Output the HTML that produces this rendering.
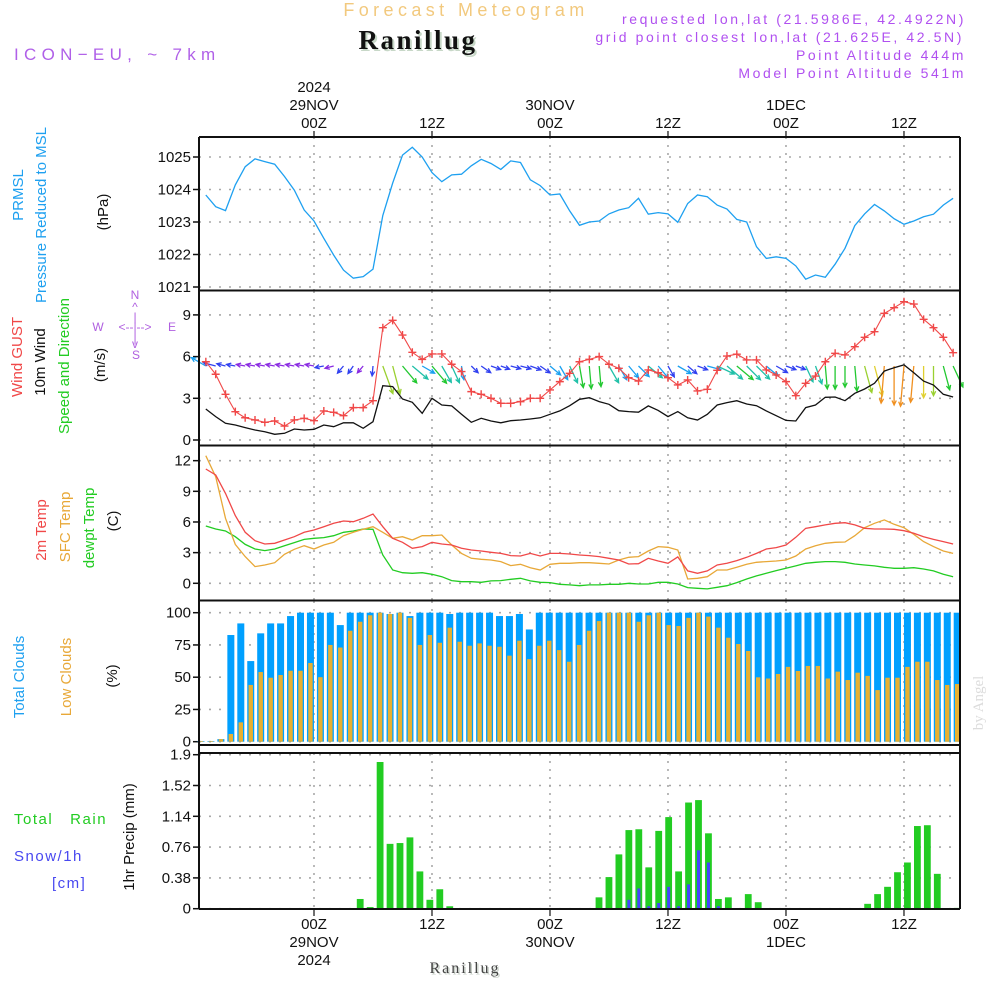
<!DOCTYPE html>
<html><head><meta charset="utf-8"><title>Forecast Meteogram - Ranillug</title>
<style>
html,body{margin:0;padding:0;background:#fff;}
svg{display:block;font-family:"Liberation Sans",sans-serif;}
.tk{font-size:15px;fill:#111;text-anchor:end;}
.ax{font-size:15px;fill:#111;text-anchor:middle;}
.lab{font-size:15px;}
</style></head>
<body>
<svg id="chart" width="1000" height="1000" viewBox="0 0 1000 1000" xmlns="http://www.w3.org/2000/svg">
<rect x="0" y="0" width="1000" height="1000" fill="#fff"/>
<text x="466" y="16" font-size="18" fill="#f2c97e" text-anchor="middle" letter-spacing="4.4">Forecast Meteogram</text>
<text x="418" y="49" font-size="27" font-weight="bold" font-family="Liberation Serif, serif" fill="#c8d8c8" text-anchor="middle" letter-spacing="2.5" transform="translate(2,2)">Ranillug</text>
<text x="418" y="49" font-size="27" font-weight="bold" font-family="Liberation Serif, serif" fill="#111" text-anchor="middle" letter-spacing="2.5">Ranillug</text>
<text x="14" y="60" font-size="17" fill="#b060e8" letter-spacing="5.3">ICON−EU, ~ 7km</text>
<g font-size="14" fill="#b050f0" text-anchor="end" letter-spacing="2.6">
<text x="966" y="24">requested lon,lat (21.5986E, 42.4922N)</text>
<text x="964" y="42">grid point closest lon,lat (21.625E, 42.5N)</text>
<text x="966" y="60">Point Altitude 444m</text>
<text x="966" y="78">Model Point Altitude 541m</text>
</g>
<g class="ax">
<text x="314" y="92" class="ax">2024</text>
<text x="314" y="110" class="ax">29NOV</text>
<text x="314" y="128" class="ax">00Z</text>
<text x="432" y="128" class="ax">12Z</text>
<text x="550" y="110" class="ax">30NOV</text>
<text x="550" y="128" class="ax">00Z</text>
<text x="668" y="128" class="ax">12Z</text>
<text x="786" y="110" class="ax">1DEC</text>
<text x="786" y="128" class="ax">00Z</text>
<text x="904" y="128" class="ax">12Z</text>
</g>
<g class="ax">
<text x="314" y="929" class="ax">00Z</text>
<text x="314" y="947" class="ax">29NOV</text>
<text x="314" y="965" class="ax">2024</text>
<text x="432" y="929" class="ax">12Z</text>
<text x="550" y="929" class="ax">00Z</text>
<text x="550" y="947" class="ax">30NOV</text>
<text x="668" y="929" class="ax">12Z</text>
<text x="786" y="929" class="ax">00Z</text>
<text x="786" y="947" class="ax">1DEC</text>
<text x="904" y="929" class="ax">12Z</text>
</g>
<text x="465" y="973" font-size="16" font-family="Liberation Serif, serif" fill="#c8d0c8" text-anchor="middle" letter-spacing="2" transform="translate(1.5,1.5)">Ranillug</text>
<text x="465" y="973" font-size="16" font-family="Liberation Serif, serif" fill="#444" text-anchor="middle" letter-spacing="2">Ranillug</text>
<text x="0" y="0" font-size="15" font-family="Liberation Serif, serif" fill="#dcdcdc" text-anchor="middle" transform="translate(983,703) rotate(-90)">by Angel</text>

<g class="lab">
<text transform="translate(23,195) rotate(-90)" text-anchor="middle" fill="#1ea0f0">PRMSL</text>
<text transform="translate(46,215) rotate(-90)" text-anchor="middle" fill="#1ea0f0">Pressure Reduced to MSL</text>
<text transform="translate(108,212) rotate(-90)" text-anchor="middle" fill="#111">(hPa)</text>
</g>
<g class="lab">
<text transform="translate(22,357) rotate(-90)" text-anchor="middle" fill="#f04848">Wind GUST</text>
<text transform="translate(45,362) rotate(-90)" text-anchor="middle" fill="#111">10m Wind</text>
<text transform="translate(69,366) rotate(-90)" text-anchor="middle" fill="#22cc22">Speed and Direction</text>
<text transform="translate(105,365) rotate(-90)" text-anchor="middle" fill="#111">(m/s)</text>
</g>
<g font-size="12" fill="#b060e0" text-anchor="middle">
<text x="135" y="299">N</text>
<text x="135" y="311">^</text>
<text x="135" y="321">|</text>
<text x="98" y="331">W</text>
<text x="135" y="331">&lt;--|--&gt;</text>
<text x="172" y="331">E</text>
<text x="135" y="342">|</text>
<text x="135" y="348">v</text>
<text x="136" y="359">S</text>
</g>
<g class="lab">
<text transform="translate(46,530) rotate(-90)" text-anchor="middle" fill="#f04848">2m Temp</text>
<text transform="translate(70,527) rotate(-90)" text-anchor="middle" fill="#e8a838">SFC Temp</text>
<text transform="translate(94,528) rotate(-90)" text-anchor="middle" fill="#22cc22">dewpt Temp</text>
<text transform="translate(118,521) rotate(-90)" text-anchor="middle" fill="#111">(C)</text>
</g>
<g class="lab">
<text transform="translate(24,677) rotate(-90)" text-anchor="middle" fill="#1ea0f0">Total Clouds</text>
<text transform="translate(71,677) rotate(-90)" text-anchor="middle" fill="#e8a838">Low Clouds</text>
<text transform="translate(117,676) rotate(-90)" text-anchor="middle" fill="#111">(%)</text>
</g>
<g class="lab">
<text x="14" y="824" fill="#22cc22" letter-spacing="1.5">Total&#160;&#160;&#160;Rain</text>
<text x="14" y="861" fill="#4848f0" letter-spacing="1.5">Snow/1h</text>
<text x="52" y="888" fill="#4848f0" letter-spacing="1.5">[cm]</text>
<text transform="translate(134,837) rotate(-90)" text-anchor="middle" fill="#111">1hr Precip (mm)</text>
</g>
<g id="plot"></g>
</svg>
<script>
// ---- data (hourly, from 28NOV 13Z (h=-11) to 1DEC 17Z (h=65)) ----
const startHour = -11;
const pressure = [1023.83,1023.47,1023.35,1024.14,1024.7,1024.94,1024.86,1024.78,1024.4,1023.98,1023.37,
1023.03,1022.5,1021.98,1021.52,1021.27,1021.32,1021.55,1023.2,1024.2,1025.06,1025.3,1025.0,1024.52,1024.24,1024.45,1024.47,1024.73,1024.93,1024.8,1024.62,1024.88,1024.83,1024.3,1024.12,1023.83,1023.86,1023.34,1022.9,1023.0,
1023.03,1023.25,1023.37,1023.44,1023.73,1023.24,1023.29,1023.25,1022.99,1023.57,1023.83,1023.78,1023.52,1023.4,1023.08,1023.0,1022.24,1021.88,1021.93,1021.88,1021.65,1021.24,1021.37,1021.3,1021.7,1022.19,1022.89,1023.25,1023.54,1023.34,1023.1,1022.93,1023.03,1023.16,1023.24,1023.52,1023.73];
const windGust = [5.63,4.73,3.29,2.04,1.6,1.44,1.27,1.37,1.0,1.44,1.56,
1.39,2.09,1.99,1.75,2.33,2.33,2.83,8.08,8.61,7.55,6.31,5.8,6.19,6.19,5.45,4.92,3.48,3.29,3.0,2.64,2.64,2.76,3.0,3.0,3.6,4.2,4.8,5.63,5.8,
6.0,5.45,5.16,4.48,4.24,5.04,4.84,4.48,3.96,4.32,3.53,3.65,5.01,6.04,6.17,5.76,5.76,5.04,4.68,4.2,3.19,4.08,4.6,5.63,6.24,6.12,6.71,7.39,7.79,9.11,9.52,9.95,9.78,8.68,8.08,7.39,6.28];
const wind10m = [2.23,1.68,1.2,1.08,0.89,0.72,0.6,0.41,0.48,0.79,0.72,
0.77,1.08,0.96,1.24,1.24,0.84,1.32,3.91,3.84,2.95,2.71,1.92,3.0,2.52,2.45,1.85,1.27,1.56,1.37,1.24,1.39,1.44,1.51,1.6,1.85,2.09,2.47,2.93,3.04,
2.76,2.57,2.11,2.04,2.0,2.45,2.13,1.68,2.04,1.6,1.44,1.85,2.52,2.69,2.83,2.59,2.47,2.09,1.75,1.41,1.37,2.33,2.52,3.07,3.09,2.83,3.36,3.67,4.08,4.96,5.2,5.4,4.84,4.24,3.96,3.29,3.09];
const windDirFrom = [120,105,105,100,100,100,100,100,100,100,100,
100,80,75,40,35,40,5,340,345,320,310,300,320,330,335,350,315,305,290,290,285,285,290,305,310,330,335,350,355,
355,330,330,320,315,310,320,330,300,310,290,285,295,310,310,315,315,310,300,290,290,335,340,355,0,0,355,345,345,5,0,5,5,0,0,345,335];
const temp2m = [11.18,10.6,8.8,6.62,4.99,4.17,3.85,3.91,4.24,4.56,4.99,
5.22,5.54,5.87,6.1,6.03,6.36,6.78,5.54,4.4,4.01,3.42,3.59,4.01,3.85,3.75,3.42,3.26,3.16,3.03,2.93,2.71,2.67,2.93,2.67,2.93,2.93,2.87,2.77,2.71,
2.61,2.45,2.28,1.89,1.92,2.45,2.18,1.96,2.58,1.21,0.98,1.21,1.79,1.96,2.22,2.54,2.93,3.36,3.49,3.75,4.5,5.38,5.54,5.71,5.87,5.93,5.71,5.38,5.31,5.31,5.28,5.15,4.89,4.56,4.3,4.08,3.85];
const tempSfc = [12.49,10.43,6.36,3.81,2.61,1.63,1.79,2.02,2.84,3.33,3.68,
3.36,3.75,4.01,4.66,4.99,5.28,5.54,4.99,4.4,4.56,4.24,4.66,4.66,4.73,3.75,2.93,2.45,2.35,2.28,2.12,1.73,1.86,1.53,1.3,1.86,1.96,1.96,2.02,2.02,
1.96,1.89,2.28,2.54,2.61,3.16,3.59,3.52,3.26,0.42,0.49,0.65,1.3,1.3,1.57,1.86,2.05,2.12,2.18,2.28,2.67,3.36,3.68,3.91,4.01,4.04,4.66,5.44,5.87,6.2,5.77,5.44,4.79,4.08,3.59,3.16,2.93];
const dewpoint = [5.61,5.31,5.12,4.56,3.81,3.36,3.2,3.36,3.68,3.98,4.3,
4.4,4.47,4.66,4.99,5.12,5.31,5.28,2.77,1.3,1.04,0.98,1.04,0.88,0.65,0.26,0.16,0.16,0.1,0.23,0.26,0.39,0.49,0.23,0.1,0.07,-0.1,-0.16,-0.23,-0.16,
-0.16,-0.1,-0.1,0,-0.07,-0.07,0.1,0.1,-0.07,-0.42,-0.49,-0.55,-0.39,-0.23,0.07,0.42,0.72,0.98,1.24,1.47,1.7,1.96,2.05,2.12,2.12,2.05,1.89,1.79,1.7,1.57,1.47,1.47,1.53,1.4,1.21,0.88,0.65];
const totalClouds = [0.5,0.5,2,82.7,91.7,62.5,84,91.7,91.7,97.4,100,
100,100,100,90.4,100,100,100,100,99,100,97.4,100,100,100,99,100,100,100,100,97.4,97.4,99,87,100,100,100,100,100,100,
100,100,100,100,100,100,100,100,100,100,100,100,100,100,100,100,100,100,100,100,100,100,100,100,100,100,100,100,100,100,100,100,100,100,100,100,100];
const lowClouds = [0.5,0.5,2,6,15,44,54,49.6,51.7,55,55,
61,50,75,73,86,93,98,100,99,100,96,75,82.7,76.7,88.4,77.5,74.4,76.2,74.4,73.6,66.7,78.3,64,74.4,78.3,71,62,75,86,
93.5,100,100,100,93,98,100,90.4,89.7,96,100,97,88.4,80.6,75.7,70.3,49.9,49,52.5,58,54.8,58.7,58.7,49,54.3,47.8,53.5,51,40,49.6,49.6,58,62,62,47.8,44,44.7];
const rain = [0,0,0,0,0,0,0,0,0,0,0,0,0,0,0,0,
0.12,0.02,1.81,0.8,0.81,0.88,0.46,0.11,0.24,0.03,
0,0,0,0,0,0,0,0,0,0,0,0,0,0,
0.14,0.39,0.67,0.97,0.98,0.51,0.96,1.13,0.46,1.31,1.34,0.93,0.12,0.14,
0,0.18,0.08,
0,0,0,0,0,0,0,0,0,0,
0.06,0.18,0.27,0.45,0.57,1.02,1.03,0.43,0,0.01];
const snow = [0,0,0,0,0,0,0,0,0,0,0,0,0,0,0,0,0,0,0,0,0,0,0,0,0,0,0,0,0,0,0,0,0,0,0,0,0,0,0,0,0,0,0,
0.11,0.25,0.03,0.07,0.27,0.03,0.3,0.72,0.57,0.03,
0,0,0,0,0,0,0,0,0,0,0,0,0,0,0,0,0,0,0,0,0,0,0,0];
const pressureTicks = [1021,1022,1023,1024,1025];
const windTicks = [0,3,6,9];
const tempTicks = [0,3,6,9,12];
const cloudTicks = [0,25,50,75,100];
const precipTicks = [0,0.38,0.76,1.14,1.52,1.9];
const timeGridHours = [0,12,24,36,48,60];

// ---- axes ----
const L = 199, R = 960;
const X = h => 314 + h * 9.833;
const barX = i => 201 + i * 9.95;
const yP = v => 287 - (v - 1021) * 32.5;
const yW = v => 440 - v * 13.9;
const yT = v => 583.3 - v * 10.22;
const yC = v => 741.7 - v * 1.29;
const yR = v => 908.7 - v * 81.05;
const panels = [
  {name:'pressure', top:137, bottom:290, ticks:pressureTicks, y:yP, fmt:v=>String(v)},
  {name:'wind', top:291, bottom:445, ticks:windTicks, y:yW, fmt:v=>String(v)},
  {name:'temperature', top:446, bottom:600, ticks:tempTicks, y:yT, fmt:v=>String(v)},
  {name:'clouds', top:601, bottom:745, ticks:cloudTicks, y:yC, fmt:v=>String(v)},
  {name:'precip', top:753, bottom:909, ticks:precipTicks, y:yR, fmt:v=>String(v)}
];
const NS = 'http://www.w3.org/2000/svg';
const plot = document.getElementById('plot');
function mk(tag, attrs, parent) {
  const el = document.createElementNS(NS, tag);
  for (const k in attrs) el.setAttribute(k, attrs[k]);
  (parent || plot).appendChild(el);
  return el;
}
function linePath(vals, yf) {
  return vals.map((v, i) => (i ? 'L' : 'M') + X(i + startHour).toFixed(1) + ' ' + yf(v).toFixed(1)).join(' ');
}

// grids + tick labels
panels.forEach(p => {
  const g = mk('g', {});
  
  
  p.ticks.forEach(v => {
    const y = p.y(v);
    const gl = mk('line', {x1:L, x2:R, y1:y, y2:y, stroke:'#a8a8a8', 'stroke-width':1.6, 'stroke-dasharray':'2,8'}, g);
    
    
    const tm = mk('line', {x1:L - 6, x2:L, y1:y, y2:y, stroke:'#111', 'stroke-width':1.5}, g);
    
    
    const t = mk('text', {x:L - 8, y:y + 5, class:'tk'}, g);
    t.textContent = p.fmt(v);
    
    
  });
  timeGridHours.forEach(h => {
    const vl = mk('line', {x1:X(h), x2:X(h), y1:p.top, y2:p.bottom, stroke:'#a8a8a8', 'stroke-width':1.6, 'stroke-dasharray':'2,6'}, g);
    
    
  });
});

// cloud bars
const cg = mk('g', {});


totalClouds.forEach((v, i) => {
  const cx = barX(i);
  const b = mk('rect', {x:cx - 3.5, y:yC(v), width:7, height:Math.max(0, yC(0) - yC(v)), fill:'#00a0ff'}, cg);
  
  
});
lowClouds.forEach((v, i) => {
  const cx = barX(i);
  const b = mk('rect', {x:cx - 2.2, y:yC(v), width:4.4, height:Math.max(0, yC(0) - yC(v)), fill:'#e8b030'}, cg);
  
  
});

// precip bars
const pg = mk('g', {});


rain.forEach((v, i) => {
  if (v <= 0) return;
  const cx = barX(i);
  const b = mk('rect', {x:cx - 3.4, y:yR(v), width:6.8, height:yR(0) - yR(v), fill:'#22cc22'}, pg);
  
  
});
snow.forEach((v, i) => {
  if (v <= 0) return;
  const cx = barX(i);
  const b = mk('rect', {x:cx - 1.5, y:yR(v), width:3, height:yR(0) - yR(v), fill:'#4444ff'}, pg);
  
  
});
const zl = mk('line', {x1:L, x2:R, y1:yR(0), y2:yR(0), stroke:'#111', 'stroke-width':1.2, 'stroke-dasharray':'6,3'});



// lines
const pl = mk('path', {d:linePath(pressure, yP), fill:'none', stroke:'#1ea0f0', 'stroke-width':1.3});



// wind arrows
function windColor(s) {
  if (s < 1.0) return '#8a2be2';
  if (s < 1.8) return '#3040f0';
  if (s < 2.3) return '#1aa0f0';
  if (s < 2.75) return '#20c0a8';
  if (s < 3.5) return '#22c830';
  if (s < 4.0) return '#9ad030';
  if (s < 4.5) return '#e0d030';
  return '#f09020';
}
const wg = mk('g', {});


windDirFrom.forEach((d, i) => {
  const s = wind10m[i];
  const len = Math.max(9, s * 7.5);
  const r = d * Math.PI / 180;
  const dx = -Math.sin(r), dy = Math.cos(r);
  const x0 = X(i + startHour), y0 = 366;
  const x1 = x0 + dx * len, y1 = y0 + dy * len;
  const c = windColor(s);
  const hl = 5, ang = 0.45;
  const bx = -dx, by = -dy;
  const h1x = x1 + hl * (bx * Math.cos(ang) - by * Math.sin(ang));
  const h1y = y1 + hl * (bx * Math.sin(ang) + by * Math.cos(ang));
  const h2x = x1 + hl * (bx * Math.cos(-ang) - by * Math.sin(-ang));
  const h2y = y1 + hl * (bx * Math.sin(-ang) + by * Math.cos(-ang));
  const a = mk('path', {d:`M${x0.toFixed(1)} ${y0} L${x1.toFixed(1)} ${y1.toFixed(1)} M${h1x.toFixed(1)} ${h1y.toFixed(1)} L${x1.toFixed(1)} ${y1.toFixed(1)} L${h2x.toFixed(1)} ${h2y.toFixed(1)}`, fill:'none', stroke:c, 'stroke-width':1.3}, wg);
  
  
});

const gl = mk('path', {d:linePath(windGust, yW), fill:'none', stroke:'#f04848', 'stroke-width':1.1});


const mg = mk('g', {});


windGust.forEach((v, i) => {
  const x = X(i + startHour), y = yW(v);
  const m = mk('path', {d:`M${x - 4} ${y} H${x + 4} M${x} ${y - 4} V${y + 4}`, stroke:'#f04848', 'stroke-width':1.4}, mg);
  
  
});
const wl = mk('path', {d:linePath(wind10m, yW), fill:'none', stroke:'#111', 'stroke-width':1.3});



const dl = mk('path', {d:linePath(dewpoint, yT), fill:'none', stroke:'#22cc22', 'stroke-width':1.3});


const sl = mk('path', {d:linePath(tempSfc, yT), fill:'none', stroke:'#e8a838', 'stroke-width':1.3});


const tl = mk('path', {d:linePath(temp2m, yT), fill:'none', stroke:'#f04848', 'stroke-width':1.3});



// frames
const fg = mk('g', {});


[137, 290.5, 445.5, 600.5, 745, 753, 909].forEach(y => {
  const f = mk('line', {x1:L, x2:R, y1:y, y2:y, stroke:'#111', 'stroke-width':2}, fg);
  
  
});
const lf = mk('line', {x1:L, x2:L, y1:137, y2:909, stroke:'#111', 'stroke-width':2}, fg);


const rf = mk('line', {x1:R, x2:R, y1:137, y2:909, stroke:'#111', 'stroke-width':2}, fg);


timeGridHours.forEach(h => {
  const t1 = mk('line', {x1:X(h), x2:X(h), y1:131, y2:137, stroke:'#111', 'stroke-width':1.2}, fg);
  
  
  const t2 = mk('line', {x1:X(h), x2:X(h), y1:909, y2:916, stroke:'#111', 'stroke-width':1.2}, fg);
  
  
});
</script>
</body></html>
